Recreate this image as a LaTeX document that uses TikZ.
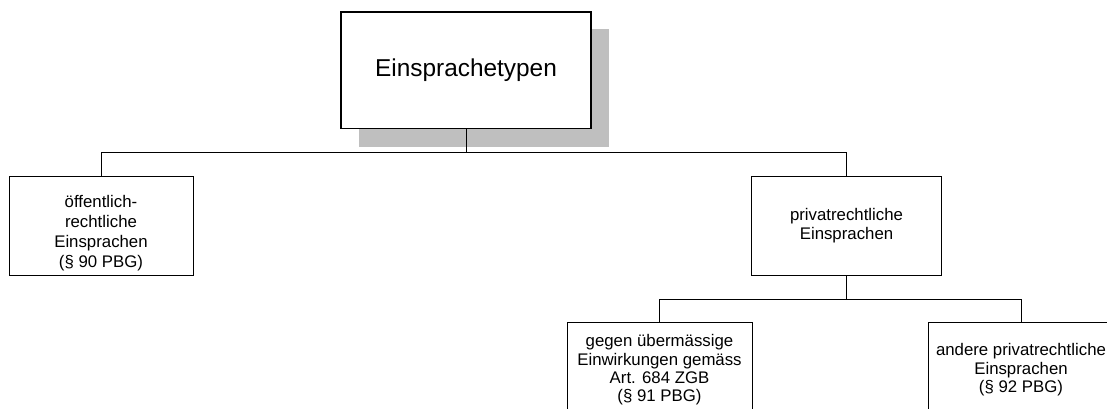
\documentclass[tikz,border=0pt]{standalone}
\usepackage{fontspec}
\setmainfont{Liberation Sans}
\begin{document}
\begin{tikzpicture}[x=1pt,y=-1pt,
  box/.style={draw=black, line width=0.9pt, fill=white, align=center, inner sep=0pt,
    font=\fontsize{16.8}{18.4}\selectfont},
  txt/.style={align=center, inner sep=0pt, font=\fontsize{16.8}{20}\selectfont},
  link/.style={draw=black, line width=0.9pt}]
\useasboundingbox (0,0) rectangle (1107,408);
\clip (0,0) rectangle (1107,408);
% shadow
\fill[gray!50] (359,29) rectangle (609,147);
\node[box, line width=1.2pt, minimum width=250pt, minimum height=116.7pt,
  font=\fontsize{24.4}{29}\selectfont] (main) at (466,70.4) {Einsprachetypen};
\node[box, minimum width=184pt, minimum height=99pt] (oeff) at (101,225.5) {};
\node[txt] (oeffT) at (101,233.2)
  {öffentlich-\\rechtliche\\Einsprachen\\(§ 90 PBG)};
\node[box, minimum width=190pt, minimum height=99pt] (priv) at (846.5,225.5)
  {privatrechtliche\\Einsprachen};
\node[box, minimum width=185pt, minimum height=96pt] (ueber) at (659.5,370)
  {gegen übermässige\\Einwirkungen gemäss\\Art. 684 ZGB\\(§ 91 PBG)};
\node[box, minimum width=186pt, minimum height=96pt] (andere) at (1021,370)
  {andere privatrechtliche\\Einsprachen\\(§ 92 PBG)};
\draw[link] (main.south) -- ++(0,23.3) coordinate (bus1);
\draw[link] (oeff.north) |- (bus1) -| (priv.north);
\draw[link] (priv.south) -- ++(0,23.7) coordinate (bus2);
\draw[link] (ueber.north) |- (bus2) -| (andere.north);
\end{tikzpicture}
\end{document}
